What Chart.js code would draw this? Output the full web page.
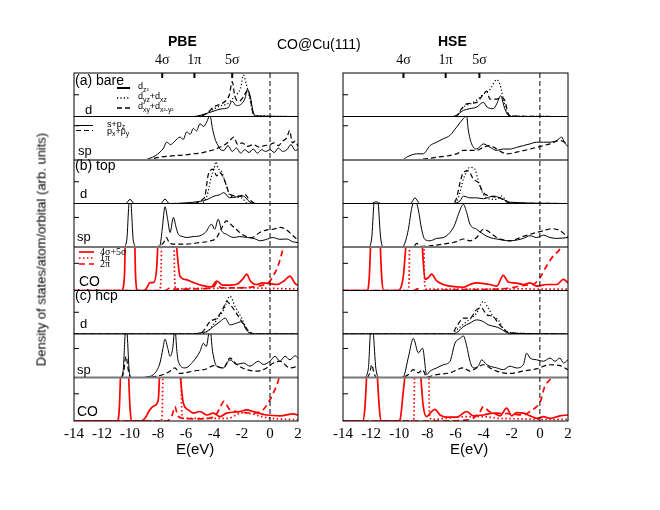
<!DOCTYPE html>
<html>
<head>
<meta charset="utf-8">
<script src="https://cdn.jsdelivr.net/npm/chart.js@4.4.1/dist/chart.umd.min.js"></script>
<style>
  body { margin: 0; background: #fff; }
  #page { position: relative; width: 660px; height: 510px; overflow: hidden; font-family: "Liberation Sans", Arial, sans-serif; }
  canvas { position: absolute; top: 0; }
  .txt { position: absolute; white-space: nowrap; color: #000; }
</style>
</head>
<body>
<div id="page">
  <canvas id="pbe" width="320" height="510" style="left:0"></canvas>
  <canvas id="hse" width="340" height="510" style="left:320px"></canvas>
  <div class="txt" style="left:168px;top:33px;font-size:14px;font-weight:bold">PBE</div>
  <div class="txt" style="left:438px;top:33px;font-size:14px;font-weight:bold">HSE</div>
  <div class="txt" style="left:277px;top:36px;font-size:14px">CO@Cu(111)</div>
  <div class="txt" style="left:176px;top:440px;font-size:15px">E(eV)</div>
  <div class="txt" style="left:450px;top:440px;font-size:15px">E(eV)</div>
  <div class="txt" style="left:-109px;top:242px;width:300px;text-align:center;font-size:13px;transform:rotate(-90deg)">Density of states/atom/orbital (arb. units)</div>
</div>
<script>
// ---- data (energies in eV, DOS in panel units) ----
var orbitalLabels = ['4σ', '1π', '5σ'];
var pbeOrbitalE = [-7.7, -5.4, -2.7];
var hseOrbitalE = [-9.7, -6.7, -4.3];

// PBE (a) bare
var pbeBareDz2E = [-14,-5.5,-5,-4.5,-4,-3.5,-3,-2.7,-2.4,-2.1,-1.8,-1.6,-1.4,-1.2,-1.0,2];
var pbeBareDz2  = [0,0,0.05,0.15,0.25,0.35,0.4,0.7,0.5,0.55,0.8,1.25,0.9,0.2,0.03,0];
var pbeBareDyzE = [-14,-5.2,-4.6,-4,-3.5,-3,-2.7,-2.4,-2.1,-1.9,-1.7,-1.5,-1.3,-1.1,2];
var pbeBareDyz  = [0,0,0.1,0.35,0.5,0.6,0.8,1.0,1.3,1.9,1.5,1.0,0.4,0.05,0];
var pbeBareDxyE = [-14,-5.2,-4.5,-4,-3.6,-3.2,-2.9,-2.7,-2.5,-2.2,-1.9,-1.6,-1.4,-1.2,-1.0,2];
var pbeBareDxy  = [0,0,0.15,0.45,0.55,0.7,1.0,1.6,0.9,0.7,0.9,1.2,0.8,0.1,0,0];
var pbeBareSpzE = [-14,-9,-8.6,-8.2,-7.86,-7.6,-7.38,-7.1,-6.8,-6.43,-6.2,-5.95,-5.7,-5.48,-5.25,-5,-4.75,-4.52,-4.29,-4.1,-3.93,-3.75,-3.57,-3.3,-3.0,-2.7,-2.4,-2.1,-1.8,-1.5,-1.2,-0.9,-0.6,-0.3,0,0.3,0.6,0.9,1.2,1.5,1.8,2];
var pbeBareSpz  = [0,0,0.05,0.12,0.23,0.35,0.52,0.45,0.55,0.67,0.6,0.82,0.75,0.92,0.85,1.06,0.98,1.11,1.3,0.9,0.62,0.45,0.32,0.28,0.42,0.25,0.35,0.2,0.3,0.22,0.32,0.2,0.3,0.25,0.3,0.22,0.35,0.25,0.3,0.45,0.28,0.3];
var pbeBarePxyE = [-14,-9,-8.5,-7.9,-7,-6,-5.5,-5,-4.5,-4,-3.6,-3.2,-2.9,-2.6,-2.3,-2,-1.6,-1.2,-0.8,-0.4,0,0.3,0.6,0.9,1.2,1.4,1.6,1.8,2];
var pbeBarePxy  = [0,0,0.03,0.08,0.12,0.15,0.18,0.2,0.25,0.3,0.37,0.45,0.55,0.67,0.45,0.5,0.4,0.45,0.38,0.42,0.45,0.5,0.42,0.55,0.65,0.86,0.5,0.55,0.4];

// PBE (b) top
var pbeTopDz2E = [-14,-10.3,-10,-9.7,-7.8,-7.5,-7.2,-6,-5,-4.5,-4,-3.6,-3.3,-2.9,-2.4,-1.9,-1.5,-1.2,2];
var pbeTopDz2  = [0,0,0.19,0,0,0.2,0,0.03,0.1,0.18,0.34,0.4,0.5,0.27,0.3,0.34,0.1,0,0];
var pbeTopDyzE = [-14,-5,-4.5,-4.2,-4.0,-3.86,-3.7,-3.5,-3.2,-2.9,-2.5,-2,-1.6,2];
var pbeTopDyz  = [0,0,0.35,1.2,1.6,1.92,1.6,1.5,1.0,0.4,0.3,0.25,0,0];
var pbeTopDxyE = [-14,-5.5,-4.8,-4.64,-4.4,-4.05,-3.8,-3.6,-3.33,-3.1,-2.86,-2.2,-1.8,-1.5,-1.0,2];
var pbeTopDxy  = [0,0,0.2,0.34,1.35,1.58,1.27,1.42,1.2,0.8,0.42,0.34,0.42,0.2,0,0];
var pbeTopSpzE = [-14,-10.5,-10.24,-10.1,-10,-9.9,-9.76,-9.5,-8,-7.86,-7.7,-7.5,-7.3,-7.14,-6.9,-6.7,-6.55,-6.2,-5.95,-5.5,-5,-4.6,-4.17,-3.95,-3.7,-3.45,-3.1,-2.6,-2.2,-1.6,-1.1,-0.7,-0.3,0.2,0.7,1.2,1.6,2];
var pbeTopSpz  = [0,0,0.2,1.3,2.0,1.3,0.2,0,0,0.05,0.6,1.36,0.9,0.49,1.0,0.65,0.43,0.35,0.32,0.35,0.38,0.5,0.77,0.6,0.94,0.55,0.43,0.32,0.35,0.32,0.28,0.21,0.25,0.32,0.26,0.27,0.18,0.15];
var pbeTopPxyE = [-14,-8.2,-7.9,-7.6,-7.4,-7.2,-6.9,-6,-5,-4.3,-3.8,-3.5,-3.1,-2.7,-2.3,-2,-1.3,-0.7,-0.2,0.24,0.71,1.1,1.6,2];
var pbeTopPxy  = [0,0,0.04,0.15,0.32,0.15,0.1,0.1,0.15,0.2,0.32,0.6,0.88,0.72,0.55,0.43,0.32,0.5,0.58,0.6,0.66,0.6,0.4,0.22];
var pbeTopSigE = [-14,-10.6,-10.4,-10.3,-10,-9.7,-9.6,-9.45,-9,-8.8,-8.57,-8.3,-8.1,-7.98,-7.8,-7.4,-7.0,-6.8,-6.67,-6.43,-6,-5.5,-4.8,-4.2,-3.8,-3.4,-2.8,-2.3,-1.9,-1.67,-1.4,-1,-0.5,0,0.5,1,1.43,1.8,2];
var pbeTopSig  = [0,0,0.5,3,5,3,0.5,0,0,0.1,0.29,0.3,0.8,2,3,3,3,2.5,1.6,0.53,0.4,0.3,0.18,0.13,0.35,0.2,0.2,0.25,0.45,0.6,0.35,0.22,0.28,0.25,0.22,0.35,0.53,0.25,0.2];
var pbeTopPi1E = [-14,-7.9,-7.8,-7.7,-7.3,-6.9,-6.8,-6.7,-6,-4,-2,0,2];
var pbeTopPi1  = [0,0,0.3,3,3,3,0.3,0.05,0.08,0.08,0.1,0.08,0.05];
var pbeTopPi2E = [-14,-7.5,-7.1,-6.8,-5,-4,-3.8,-3.5,-2,-1,-0.5,0,0.24,0.48,0.7,0.95,1.1,2];
var pbeTopPi2  = [0,0,0.1,0.05,0.06,0.15,0.28,0.1,0.1,0.15,0.2,0.35,0.55,0.78,1.1,1.6,2,3];

// PBE (c) hcp
var pbeHcpDz2E = [-14,-5.5,-5,-4.5,-4.05,-3.57,-3.2,-2.86,-2.4,-2.02,-1.7,-1.3,2];
var pbeHcpDz2  = [0,0,0.05,0.12,0.34,0.57,0.73,0.42,0.5,0.57,0.2,0,0];
var pbeHcpDyzE = [-14,-5.2,-4.5,-3.8,-3.3,-2.86,-2.5,-2.02,-1.67,-1.3,2];
var pbeHcpDyz  = [0,0,0.11,0.65,1.12,1.74,1.27,0.73,0.26,0.02,0];
var pbeHcpDxyE = [-14,-5.3,-4.8,-4.29,-3.8,-3.33,-3.1,-2.74,-2.4,-2.02,-1.8,-1.43,-1.2,2];
var pbeHcpDxy  = [0,0,0.11,0.57,0.73,1.2,1.5,1.27,0.95,0.57,0.34,0.11,0,0];
var pbeHcpSpzE = [-14,-10.7,-10.5,-10.35,-10.29,-10.2,-10.05,-9.9,-9,-8.8,-8.33,-7.86,-7.65,-7.5,-7.3,-7.14,-6.95,-6.79,-6.65,-6.55,-6.07,-5.48,-5.0,-4.76,-4.55,-4.29,-4.1,-3.81,-3.33,-2.86,-2.38,-1.9,-1.43,-0.83,-0.48,0,0.36,0.71,1.07,1.43,1.79,2];
var pbeHcpSpz  = [0,0,0.2,1.5,2,1.5,0.2,0,0,0.02,0.1,0.5,1.0,1.32,1.0,0.73,1.0,1.7,0.9,0.56,0.33,0.56,0.9,1.18,1.07,1.7,0.9,0.39,0.33,0.61,0.45,0.5,0.39,0.56,0.45,0.56,0.73,0.56,0.73,0.61,0.75,0.67];
var pbeHcpPxyE = [-14,-10.6,-10.45,-10.29,-10.1,-9.95,-9,-7.86,-7.2,-6.79,-6.45,-5.48,-4.5,-4.05,-3.33,-2.86,-2.38,-1.67,-0.95,-0.24,0.24,0.71,1.43,2];
var pbeHcpPxy  = [0,0,0.2,0.73,0.2,0,0,0.07,0.2,0.33,0.14,0.22,0.3,0.41,0.33,0.67,0.45,0.27,0.22,0.33,0.5,0.56,0.33,0.39];
var pbeHcpSigE = [-14,-10.9,-10.76,-10.6,-10.4,-10.2,-10.0,-9.9,-9.2,-8.93,-8.6,-8.3,-7.98,-7.86,-7.6,-7.2,-6.9,-6.55,-6.4,-6.19,-5.83,-5.48,-5,-4.5,-4.05,-3.57,-3.1,-2.14,-1.67,-1.2,-0.24,0.71,1.67,2];
var pbeHcpSig  = [0,0,0.5,3,5,3,0.5,0,0,0.1,0.4,0.55,0.78,2,3,3,3,2.5,1.6,0.66,0.41,0.29,0.35,0.22,0.29,0.16,0.29,0.35,0.41,0.35,0.22,0.19,0.26,0.22];
var pbeHcpPi1E = [-14,-7.8,-7.7,-7.6,-7,-6.4,-6.3,-6.2,-5,-3,-2,-1.2,-0.5,0.5,2];
var pbeHcpPi1  = [0,0,0.3,3,3,3,0.3,0.1,0.1,0.1,0.3,0.25,0.15,0.08,0.05];
var pbeHcpPi2E = [-14,-7.4,-7.0,-6.79,-6.6,-6.2,-5,-4,-3.6,-3.3,-2.86,-2.4,-1.2,-0.5,0,0.24,0.6,0.8,2];
var pbeHcpPi2  = [0,0,0.2,0.53,0.2,0.1,0.08,0.15,0.45,0.72,0.41,0.35,0.29,0.41,0.78,1.03,1.5,2,3];

// HSE (a) bare
var hseBareDz2E = [-14,-6.2,-5.92,-5.44,-4.97,-4.5,-4.02,-3.75,-3.31,-3.07,-2.79,-2.5,-2.25,-2,2];
var hseBareDz2  = [0,0,0.06,0.28,0.36,0.43,0.65,0.43,0.36,0.58,0.95,0.36,0.06,0,0];
var hseBareDyzE = [-14,-6,-5.44,-4.73,-4.02,-3.55,-3.07,-2.84,-2.6,-2.36,-2.1,2];
var hseBareDyz  = [0,0,0.43,0.65,1.02,1.24,1.69,1.47,0.8,0.2,0.03,0];
var hseBareDxyE = [-14,-6,-5.56,-5.21,-4.5,-4.02,-3.78,-3.55,-3.07,-2.72,-2.48,-2.25,-2.0,2];
var hseBareDxy  = [0,0,0.36,0.58,0.65,1.02,1.17,0.8,0.8,0.87,0.72,0.13,0.02,0];
var hseBareSpzE = [-14,-9.8,-9.48,-9.1,-8.76,-8.3,-7.81,-7.34,-6.87,-6.39,-5.92,-5.44,-5.21,-5.1,-4.85,-4.5,-4.02,-3.55,-3.07,-2.6,-2.13,-1.65,-1.18,-0.7,-0.23,0.25,0.72,1.2,1.55,1.75,2];
var hseBareSpz  = [0,0,0.08,0.15,0.18,0.18,0.42,0.52,0.62,0.72,0.96,1.21,1.3,0.9,0.47,0.32,0.47,0.37,0.28,0.32,0.32,0.37,0.42,0.47,0.52,0.52,0.52,0.57,0.67,0.5,0.4];
var hseBarePxyE = [-14,-9.5,-8.76,-7.34,-5.92,-5.44,-4.5,-4.02,-3.55,-3.07,-2.36,-1.65,-0.7,0.25,0.72,1.43,2];
var hseBarePxy  = [0,0,0.01,0.08,0.18,0.28,0.28,0.37,0.42,0.32,0.18,0.23,0.32,0.42,0.47,0.57,0.47];

// HSE (b) top
var hseTopDz2E = [-14,-12,-11.65,-11.3,-9.2,-8.88,-8.55,-6.2,-5.68,-5.44,-4.97,-4.5,-4.02,-3.31,-2.84,-2.6,-2.13,2];
var hseTopDz2  = [0,0,0.08,0,0,0.26,0,0,0.12,0.34,0.26,0.26,0.22,0.34,0.26,0.19,0.06,0];
var hseTopDyzE = [-14,-6.1,-5.8,-5.44,-4.97,-4.62,-4.38,-4.02,-3.5,-3.07,-2.72,-2.36,-2.0,2];
var hseTopDyz  = [0,0,0.26,1.12,1.66,1.58,1.04,0.42,0.2,0.19,0.34,0.11,0,0];
var hseTopDxyE = [-14,-6.2,-5.92,-5.68,-5.44,-5.09,-4.73,-4.38,-4.02,-3.55,-2.84,-2.48,-2.13,2];
var hseTopDxy  = [0,0,0.26,0.96,1.43,1.5,1.12,0.96,0.5,0.34,0.26,0.11,0.03,0];
var hseTopSpzE = [-14,-12.2,-11.96,-11.8,-11.65,-11.5,-11.32,-11.1,-9.8,-9.71,-9.35,-9.12,-8.88,-8.64,-8.41,-8.17,-7.81,-7.34,-6.87,-6.39,-6.04,-5.8,-5.44,-5.21,-4.97,-4.5,-4.02,-3.55,-3.07,-2.13,-1.18,-0.7,-0.23,0.25,0.72,1.2,2];
var hseTopSpz  = [0,0,0.3,1.5,2,1.5,0.3,0,0,0.02,0.6,1.3,1.6,1.25,0.6,0.25,0.21,0.29,0.32,0.49,0.77,1.1,1.44,1.17,0.77,0.6,0.43,0.32,0.27,0.21,0.29,0.38,0.32,0.4,0.32,0.29,0.32];
var hseTopPxyE = [-14,-9.0,-8.76,-8.5,-7.81,-6.87,-5.92,-5.44,-4.97,-4.5,-4.02,-3.55,-3.07,-2.13,-1.18,-0.23,0.25,0.84,1.43,2];
var hseTopPxy  = [0,0,0.12,0.02,0.04,0.1,0.18,0.27,0.21,0.32,0.6,0.49,0.32,0.21,0.36,0.49,0.55,0.62,0.55,0.32];
var hseTopSigE = [-14,-12.3,-12.13,-11.95,-11.7,-11.45,-11.25,-11.1,-10.1,-9.95,-9.71,-9.47,-9.2,-8.9,-8.6,-8.41,-8.17,-7.93,-7.7,-7.34,-6.87,-6.39,-5.44,-4.97,-4.5,-3.55,-3.07,-2.6,-2.25,-1.77,-1.18,-0.7,-0.23,0.48,1.2,1.67,2];
var hseTopSig  = [0,0,0.5,3,5,3,0.5,0,0,0.04,0.53,2,3,3,3,2,0.41,0.47,0.6,0.35,0.22,0.16,0.12,0.22,0.28,0.22,0.16,0.56,0.31,0.28,0.22,0.28,0.16,0.22,0.22,0.41,0.28];
var hseTopPi1E = [-14,-9.4,-9.3,-9.24,-8.8,-8.29,-8.2,-8.1,-6,-3,-1,0,2];
var hseTopPi1  = [0,0,0.3,3,3,3,0.3,0.05,0.05,0.05,0.06,0.05,0.05];
var hseTopPi2E = [-14,-9,-8.7,-8.4,-6,-3,-2,-1,-0.5,0,0.48,0.96,1.43,1.7,2];
var hseTopPi2  = [0,0,0.06,0,0.03,0.05,0.1,0.2,0.22,0.47,0.9,1.28,1.53,1.9,3];

// HSE (c) hcp
var hseHcpDz2E = [-14,-6.3,-5.92,-5.44,-4.97,-4.5,-4.02,-3.67,-3.19,-2.84,-2.48,-2.13,2];
var hseHcpDz2  = [0,0,0.06,0.34,0.5,0.65,0.57,0.42,0.34,0.26,0.11,0.03,0];
var hseHcpDyzE = [-14,-6.3,-5.92,-5.21,-4.5,-4.02,-3.67,-3.31,-2.96,-2.6,-2.13,2];
var hseHcpDyz  = [0,0,0.19,0.57,0.96,1.5,1.19,0.8,0.65,0.26,0.06,0];
var hseHcpDxyE = [-14,-6.3,-5.92,-5.44,-4.97,-4.5,-4.14,-3.78,-3.31,-2.96,-2.6,-2.25,2];
var hseHcpDxy  = [0,0,0.34,0.73,0.73,1.12,1.19,0.88,0.8,0.5,0.26,0.06,0];
var hseHcpSpzE = [-14,-12.5,-12.2,-12.05,-11.95,-11.85,-11.66,-11.4,-9.9,-9.71,-9.35,-9.0,-8.64,-8.34,-8.05,-7.81,-7.34,-6.87,-6.39,-6.04,-5.68,-5.44,-5.21,-4.97,-4.73,-4.38,-4.14,-3.78,-3.07,-2.6,-2.13,-1.65,-1.18,-0.94,-0.7,-0.23,0.25,0.72,1.08,1.43,1.67,2];
var hseHcpSpz  = [0,0,0.3,1.6,2,1.6,0.3,0,0,0.02,0.7,1.35,0.85,1.01,0.1,0.22,0.33,0.44,0.56,1.18,1.35,1.43,1.1,0.56,0.33,0.39,0.61,0.44,0.33,0.27,0.39,0.33,0.44,0.84,0.67,0.61,0.56,0.67,0.56,0.67,0.5,0.61];
var hseHcpPxyE = [-14,-12.3,-12.1,-11.95,-11.8,-11.6,-9.8,-9.35,-9.0,-8.64,-8.34,-8.05,-7.34,-6.39,-5.44,-4.97,-4.5,-4.02,-3.55,-3.07,-2.13,-1.18,-0.23,0.72,1.43,2];
var hseHcpPxy  = [0,0,0.15,0.44,0.15,0,0,0.1,0.27,0.16,0.27,0.02,0.1,0.16,0.33,0.22,0.33,0.44,0.33,0.22,0.14,0.22,0.3,0.44,0.41,0.27];
var hseHcpSigE = [-14,-12.6,-12.44,-12.2,-11.95,-11.7,-11.42,-11.3,-10.1,-9.95,-9.71,-9.52,-9.2,-8.9,-8.53,-8.29,-8.05,-7.81,-7.46,-7.1,-6.63,-5.92,-5.21,-4.74,-4.02,-3.31,-2.84,-2.36,-2.01,-1.65,-1.18,-0.7,-0.23,0.25,0.72,1.43,2];
var hseHcpSig  = [0,0,0.5,3,5,3,0.5,0,0,0.04,1.1,2,3,3,2,0.53,0.16,0.29,0.43,0.22,0.14,0.14,0.35,0.19,0.22,0.29,0.19,0.47,0.19,0.31,0.29,0.19,0.1,0.16,0.1,0.19,0.22];
var hseHcpPi1E = [-14,-9.0,-8.95,-8.88,-8.4,-7.93,-7.85,-7.7,-5.2,-4,-3,-1.5,0,2];
var hseHcpPi1  = [0,0,0.3,3,3,3,0.3,0.06,0.16,0.16,0.1,0.08,0.06,0.06];
var hseHcpPi2E = [-14,-7,-5,-4.3,-4.02,-3.6,-3.07,-2.13,-1.18,-0.7,-0.23,0,0.35,0.84,1.0,2];
var hseHcpPi2  = [0,0,0.05,0.3,0.53,0.35,0.29,0.27,0.22,0.35,0.53,0.66,1.28,1.7,2.2,3];

// ---- panels (top to bottom) ----
var panelIds = ['aD', 'aSp', 'bD', 'bSp', 'bCo', 'cD', 'cSp', 'cCo'];
var panelMax = [2, 1.27, 2, 1.47, 1.6, 2, 1.5, 1.6];

var styles = {
  solid: { color: '#000', width: 1, dash: [] },
  dot:   { color: '#000', width: 1.2, dash: [1.2, 2.2] },
  dash:  { color: '#000', width: 1.2, dash: [5, 3] },
  rsolid:{ color: '#ff0000', width: 1.7, dash: [] },
  rdot:  { color: '#ff0000', width: 1.7, dash: [1.5, 2.5] },
  rdash: { color: '#ff0000', width: 1.7, dash: [6, 4] }
};

function series(E, V, axis, style) {
  var s = styles[style];
  return {
    data: E.map(function (x, i) { return { x: x, y: V[i] }; }),
    yAxisID: axis,
    borderColor: s.color,
    borderWidth: s.width,
    borderDash: s.dash,
    pointRadius: 0,
    fill: false,
    cubicInterpolationMode: 'monotone'
  };
}

var pbeSeries = [
  series(pbeBareDz2E, pbeBareDz2, 'aD', 'solid'),
  series(pbeBareDyzE, pbeBareDyz, 'aD', 'dot'),
  series(pbeBareDxyE, pbeBareDxy, 'aD', 'dash'),
  series(pbeBareSpzE, pbeBareSpz, 'aSp', 'solid'),
  series(pbeBarePxyE, pbeBarePxy, 'aSp', 'dash'),
  series(pbeTopDz2E, pbeTopDz2, 'bD', 'solid'),
  series(pbeTopDyzE, pbeTopDyz, 'bD', 'dot'),
  series(pbeTopDxyE, pbeTopDxy, 'bD', 'dash'),
  series(pbeTopSpzE, pbeTopSpz, 'bSp', 'solid'),
  series(pbeTopPxyE, pbeTopPxy, 'bSp', 'dash'),
  series(pbeTopSigE, pbeTopSig, 'bCo', 'rsolid'),
  series(pbeTopPi1E, pbeTopPi1, 'bCo', 'rdot'),
  series(pbeTopPi2E, pbeTopPi2, 'bCo', 'rdash'),
  series(pbeHcpDz2E, pbeHcpDz2, 'cD', 'solid'),
  series(pbeHcpDyzE, pbeHcpDyz, 'cD', 'dot'),
  series(pbeHcpDxyE, pbeHcpDxy, 'cD', 'dash'),
  series(pbeHcpSpzE, pbeHcpSpz, 'cSp', 'solid'),
  series(pbeHcpPxyE, pbeHcpPxy, 'cSp', 'dash'),
  series(pbeHcpSigE, pbeHcpSig, 'cCo', 'rsolid'),
  series(pbeHcpPi1E, pbeHcpPi1, 'cCo', 'rdot'),
  series(pbeHcpPi2E, pbeHcpPi2, 'cCo', 'rdash')
];

var hseSeries = [
  series(hseBareDz2E, hseBareDz2, 'aD', 'solid'),
  series(hseBareDyzE, hseBareDyz, 'aD', 'dot'),
  series(hseBareDxyE, hseBareDxy, 'aD', 'dash'),
  series(hseBareSpzE, hseBareSpz, 'aSp', 'solid'),
  series(hseBarePxyE, hseBarePxy, 'aSp', 'dash'),
  series(hseTopDz2E, hseTopDz2, 'bD', 'solid'),
  series(hseTopDyzE, hseTopDyz, 'bD', 'dot'),
  series(hseTopDxyE, hseTopDxy, 'bD', 'dash'),
  series(hseTopSpzE, hseTopSpz, 'bSp', 'solid'),
  series(hseTopPxyE, hseTopPxy, 'bSp', 'dash'),
  series(hseTopSigE, hseTopSig, 'bCo', 'rsolid'),
  series(hseTopPi1E, hseTopPi1, 'bCo', 'rdot'),
  series(hseTopPi2E, hseTopPi2, 'bCo', 'rdash'),
  series(hseHcpDz2E, hseHcpDz2, 'cD', 'solid'),
  series(hseHcpDyzE, hseHcpDyz, 'cD', 'dot'),
  series(hseHcpDxyE, hseHcpDxy, 'cD', 'dash'),
  series(hseHcpSpzE, hseHcpSpz, 'cSp', 'solid'),
  series(hseHcpPxyE, hseHcpPxy, 'cSp', 'dash'),
  series(hseHcpSigE, hseHcpSig, 'cCo', 'rsolid'),
  series(hseHcpPi1E, hseHcpPi1, 'cCo', 'rdot'),
  series(hseHcpPi2E, hseHcpPi2, 'cCo', 'rdash')
];

// ---- drawing helpers for the frame, labels and legends ----
function line(ctx, x1, y1, x2, y2) {
  ctx.beginPath(); ctx.moveTo(x1, y1); ctx.lineTo(x2, y2); ctx.stroke();
}

// text with subscripts: parts = [[text, isSub], ...]
function richText(ctx, x, y, parts, size, family) {
  parts.forEach(function (p) {
    var fs = p[1] ? size * 0.75 : size;
    ctx.font = fs + 'px ' + family;
    ctx.fillText(p[0], x, p[1] ? y + size * 0.3 : y);
    x += ctx.measureText(p[0]).width;
  });
}

var sepColor = ['#000', '#777', '#000', '#777', '#000', '#000', '#777'];
var sepWidth = [1.2, 2, 1.2, 2, 1.2, 1.2, 2];

var panelText = [
  ['(a) bare', 'aD', 1, 8, 14], ['d', 'aD', 11, 37, 13], ['sp', 'aSp', 4, 35, 13],
  ['(b) top', 'bD', 1, 6, 14], ['d', 'bD', 6, 34, 13], ['sp', 'bSp', 3, 34, 13], ['CO', 'bCo', 5, 35, 14],
  ['(c) hcp', 'cD', 1, 6, 14], ['d', 'cD', 6, 34, 13], ['sp', 'cSp', 3, 36, 13], ['CO', 'cCo', 3, 35, 14]
];

var dosFrame = {
  id: 'dosFrame',
  afterDatasetsDraw: function (chart, args, opts) {
    var ctx = chart.ctx, a = chart.chartArea, sc = chart.scales;
    ctx.save();
    ctx.setLineDash([]);
    panelIds.slice(0, -1).forEach(function (id, i) {
      ctx.strokeStyle = sepColor[i]; ctx.lineWidth = sepWidth[i];
      line(ctx, a.left, sc[id].bottom, a.right, sc[id].bottom);
    });
    ctx.strokeStyle = '#000'; ctx.lineWidth = 1;
    ctx.strokeRect(a.left, a.top, a.right - a.left, a.bottom - a.top);
    panelIds.forEach(function (id) {
      var y = sc[id].getPixelForValue(1);
      line(ctx, a.left, y, a.left + 5, y);
    });
    ctx.lineWidth = 2;
    sc.x2.ticks.forEach(function (t) {
      var x = sc.x2.getPixelForValue(t.value);
      line(ctx, x, a.top, x, a.top + 5);
    });
    ctx.lineWidth = 1;
    ctx.setLineDash([5, 3]);
    var x0 = sc.x.getPixelForValue(0);
    line(ctx, x0, a.top, x0, a.bottom);
    ctx.setLineDash([]);

    if (opts.labels) {
      ctx.fillStyle = '#000';
      ctx.textBaseline = 'middle';
      panelText.forEach(function (t) {
        ctx.font = t[4] + 'px "Liberation Sans", Arial, sans-serif';
        ctx.fillText(t[0], a.left + t[2], sc[t[1]].top + t[3]);
      });
      var sans = '"Liberation Sans", Arial, sans-serif';
      var serif = '"Liberation Serif", "Times New Roman", serif';
      // d legend
      var dTop = sc.aD.top, lx = a.left + 43;
      [['solid', 15], ['dot', 25], ['dash', 35]].forEach(function (l) {
        var s = styles[l[0]];
        ctx.strokeStyle = s.color; ctx.lineWidth = l[0] === 'solid' ? 2 : 1.4; ctx.setLineDash(s.dash);
        line(ctx, lx, dTop + l[1], lx + 13, dTop + l[1]);
      });
      ctx.setLineDash([]);
      richText(ctx, lx + 21, dTop + 14, [['d', 0], ['z²', 1]], 9, sans);
      richText(ctx, lx + 21, dTop + 24, [['d', 0], ['yz', 1], ['+d', 0], ['xz', 1]], 9, sans);
      richText(ctx, lx + 21, dTop + 34, [['d', 0], ['xy', 1], ['+d', 0], ['x²-y²', 1]], 9, sans);
      // sp legend
      var sTop = sc.aSp.top;
      [['solid', 9], ['dash', 14]].forEach(function (l) {
        var s = styles[l[0]];
        ctx.strokeStyle = s.color; ctx.lineWidth = 1; ctx.setLineDash(s.dash);
        line(ctx, a.left + 2, sTop + l[1], a.left + 19, sTop + l[1]);
      });
      ctx.setLineDash([]);
      richText(ctx, a.left + 33, sTop + 8, [['s+p', 0], ['z', 1]], 9, sans);
      richText(ctx, a.left + 33, sTop + 15, [['p', 0], ['x', 1], ['+p', 0], ['y', 1]], 9, sans);
      // CO legend
      var cTop = sc.bCo.top;
      [['rsolid', 5], ['rdot', 11], ['rdash', 17]].forEach(function (l) {
        var s = styles[l[0]];
        ctx.strokeStyle = s.color; ctx.lineWidth = s.width; ctx.setLineDash(s.dash);
        line(ctx, a.left + 5, cTop + l[1], a.left + 20, cTop + l[1]);
      });
      ctx.setLineDash([]);
      ctx.font = '10px ' + serif;
      ctx.fillText('4σ+5σ', a.left + 26, cTop + 5);
      ctx.fillText('1π', a.left + 26, cTop + 11);
      ctx.fillText('2π', a.left + 26, cTop + 17);
    }
    ctx.restore();
  }
};

function makeChart(id, datasets, orbitalE, pad, labels) {
  var scales = {
    x: {
      type: 'linear', position: 'bottom', min: -14, max: 2,
      ticks: { stepSize: 2, color: '#000', padding: 4, maxRotation: 0,
               font: { family: '"Liberation Serif", "Times New Roman", serif', size: 15 } },
      grid: { display: false, drawTicks: false },
      border: { display: false },
      afterFit: function (s) { s.height = 28; }
    },
    x2: {
      type: 'linear', position: 'top', min: -14, max: 2,
      afterBuildTicks: function (s) { s.ticks = orbitalE.map(function (v) { return { value: v }; }); },
      ticks: { color: '#000', padding: 4, maxRotation: 0, autoSkip: false,
               font: { family: '"Liberation Serif", "Times New Roman", serif', size: 14 },
               callback: function (v, i) { return orbitalLabels[i]; } },
      grid: { display: false, drawTicks: false },
      border: { display: false },
      afterFit: function (s) { s.height = 20; }
    }
  };
  panelIds.forEach(function (pid, i) {
    scales[pid] = {
      type: 'linear', position: 'left', stack: 'dos', stackWeight: 1,
      weight: panelIds.length - i,
      min: 0, max: panelMax[i],
      ticks: { display: false },
      grid: { display: false, drawTicks: false },
      border: { display: false },
      afterFit: function (s) { s.width = 0; }
    };
  });
  return new Chart(document.getElementById(id), {
    type: 'line',
    data: { datasets: datasets },
    options: {
      responsive: false,
      animation: false,
      parsing: true,
      layout: { padding: pad },
      scales: scales,
      plugins: { legend: { display: false }, tooltip: { enabled: false }, dosFrame: { labels: labels } }
    },
    plugins: [dosFrame]
  });
}

makeChart('pbe', pbeSeries, pbeOrbitalE, { left: 74, right: 22, top: 53, bottom: 61 }, true);
makeChart('hse', hseSeries, hseOrbitalE, { left: 23, right: 92, top: 53, bottom: 61 }, false);
</script>
</body>
</html>
